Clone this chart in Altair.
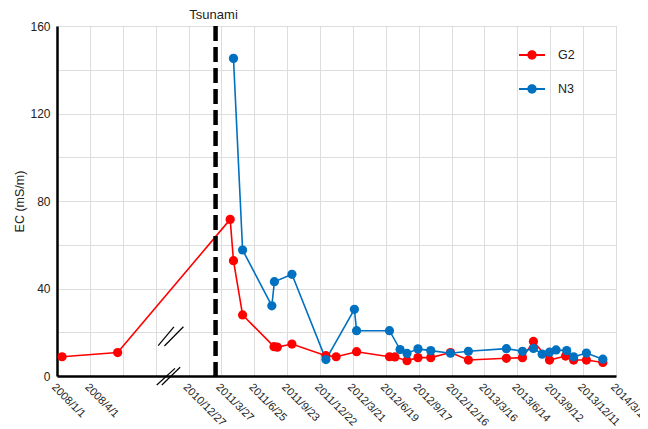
import altair as alt
import pandas as pd

# ---- data ----
g2_dates = ["2008/1/15", "2008/6/15", "2011/4/20", "2011/4/29", "2011/5/24", "2011/8/18",
            "2011/8/27", "2011/10/6", "2012/1/7", "2012/2/4", "2012/3/31", "2012/6/29",
            "2012/7/14", "2012/8/16", "2012/9/15", "2012/10/20", "2012/12/13", "2013/1/31",
            "2013/5/15", "2013/6/28", "2013/7/28", "2013/9/10", "2013/10/24", "2013/11/15",
            "2013/12/20", "2014/2/3"]
g2_values = [8.8, 10.7, 71.6, 52.7, 27.9, 13.4, 13.2, 14.6, 9.3, 8.8, 11.1, 8.8,
             8.7, 7.0, 8.4, 8.4, 10.7, 7.3, 8.1, 8.4, 15.8, 7.3, 9.1, 7.3, 7.3, 6.2]

n3_dates = ["2011/4/29", "2011/5/24", "2011/8/12", "2011/8/19", "2011/10/6", "2012/1/7",
            "2012/3/25", "2012/3/31", "2012/6/29", "2012/7/28", "2012/8/16", "2012/9/15",
            "2012/10/20", "2012/12/13", "2013/1/31", "2013/5/15", "2013/6/28", "2013/7/28",
            "2013/8/21", "2013/9/10", "2013/9/28", "2013/10/27", "2013/11/15", "2013/12/20",
            "2014/2/3"]
n3_values = [145.2, 57.6, 32.1, 43.1, 46.5, 7.5, 30.5, 20.7, 20.7, 12.1, 10.3, 12.4,
             11.6, 10.4, 11.3, 12.5, 11.3, 12.6, 10.0, 10.9, 11.9, 11.6, 8.8, 10.5, 7.7]

series_names = ["G2", "N3"]
series_colors = ["#ff0000", "#0070c0"]

tick_labels = ["2008/1/1", "2008/4/1", "", "", "2010/12/27", "2011/3/27", "2011/6/25",
               "2011/9/23", "2011/12/22", "2012/3/21", "2012/6/19", "2012/9/17",
               "2012/12/16", "2013/3/16", "2013/6/14", "2013/9/12", "2013/12/11", "2014/3/11"]
y_ticks = [0, 20, 40, 60, 80, 100, 120, 140, 160]

tsunami_date = "2011/3/11"
tsunami_label = "Tsunami"

# broken axis: dates before the break count from 2008/1/1, after it from 2010/12/27 (+360)
START = pd.Timestamp("2008-01-01")
RESTART = pd.Timestamp("2010-12-27")
GAP_OFFSET = 360


def to_pos(s):
    d = pd.Timestamp(s.replace("/", "-"))
    if d < pd.Timestamp("2010-01-01"):
        return (d - START).days
    return GAP_OFFSET + (d - RESTART).days


tick_values = [to_pos(l) if l else 90 * i for i, l in enumerate(tick_labels)]
x_max = tick_values[-1]

rows = []
for name, dates, vals in [("G2", g2_dates, g2_values), ("N3", n3_dates, n3_values)]:
    for d, v in zip(dates, vals):
        rows.append({"series": name, "date": d, "pos": to_pos(d), "value": v})
df = pd.DataFrame(rows)

# break marks "//" (data units of the broken axis)
brk = pd.DataFrame({
    "pos": [277, 294, 273, 287],
    "pos2": [320, 346, 323, 337],
    "value": [13.9, 13.7, -4.1, -4.1],
    "value2": [22.5, 22.5, 3.5, 4.0],
})

label_arr = "[" + ",".join("'" + l + "'" for l in tick_labels) + "]"

x_enc = alt.X(
    "pos:Q",
    scale=alt.Scale(domain=[0, x_max], nice=False, zero=False),
    axis=alt.Axis(
        values=tick_values,
        labelExpr=label_arr + "[round(datum.value/90)]",
        title=None,
        labelAngle=45,
        labelAlign="left",
        labelBaseline="top",
        labelPadding=5,
        ticks=False,
        domainColor="black",
        domainWidth=2.5,
        gridColor="#dddddd",
        labelFontSize=11,
        labelColor="#222222",
        labelFont="Liberation Sans",
        labelOverlap=False,
        labelBound=False,
    ),
)
y_enc = alt.Y(
    "value:Q",
    scale=alt.Scale(domain=[0, 160], nice=False),
    axis=alt.Axis(
        values=y_ticks,
        labelExpr="datum.value % 40 == 0 ? datum.label : ''",
        title="EC (mS/m)",
        titleFontWeight="normal",
        titleFontSize=12.5,
        titleFont="Liberation Sans",
        titleColor="#222222",
        titlePadding=3,
        ticks=False,
        labelPadding=7,
        domainColor="black",
        domainWidth=2.5,
        gridColor="#dddddd",
        labelFontSize=12,
        labelColor="#222222",
        labelFont="Liberation Sans",
    ),
)

color_scale = alt.Scale(domain=series_names, range=series_colors)

legend_symbol = ("M-1,-0.075L1,-0.075L1,0.075L-1,0.075Z "
                 "M-0.36,0A0.36,0.36 0 1,1 0.36,0A0.36,0.36 0 1,1 -0.36,0Z")
legend = alt.Legend(
    title=None, orient="none", legendX=462, legendY=16,
    symbolType=legend_symbol, symbolSize=676, symbolStrokeWidth=0,
    labelFontSize=12.5, labelFont="Liberation Sans", labelColor="#222222",
    labelOffset=13, rowPadding=14, padding=0,
)

lines = alt.Chart(df).mark_line(strokeWidth=1.6).encode(
    x=x_enc, y=y_enc,
    color=alt.Color("series:N", scale=color_scale, legend=legend),
    detail="series:N",
)

points = alt.Chart(df).mark_point(filled=True, size=85, opacity=1).encode(
    x=x_enc, y=y_enc,
    color=alt.Color("series:N", scale=color_scale, legend=legend),
)

tsu = pd.DataFrame({"pos": [to_pos(tsunami_date)], "label": [tsunami_label]})
tsunami_rule = alt.Chart(tsu).mark_rule(
    color="black", strokeWidth=4.5, strokeDash=[15, 6]
).encode(x=x_enc)
tsunami_text = alt.Chart(tsu).mark_text(
    fontSize=13, font="Liberation Sans", color="#222222", baseline="middle", dx=-2
).encode(x=x_enc, y=alt.value(-11), text="label:N")

breaks = alt.Chart(brk).mark_rule(color="black", strokeWidth=1.2).encode(
    x=x_enc, x2="pos2:Q", y=y_enc, y2="value2:Q"
)

# draw order: lines below points
chart = alt.layer(lines, tsunami_rule, breaks, points, tsunami_text).properties(
    width=559, height=350,
    autosize=alt.AutoSizeParams(type="none"),
    padding={"left": 49, "top": 18, "right": 24, "bottom": 52},
).configure_view(stroke=None).configure(background="white")

chart.save("out.html", embed_options={"renderer": "svg", "actions": False})
